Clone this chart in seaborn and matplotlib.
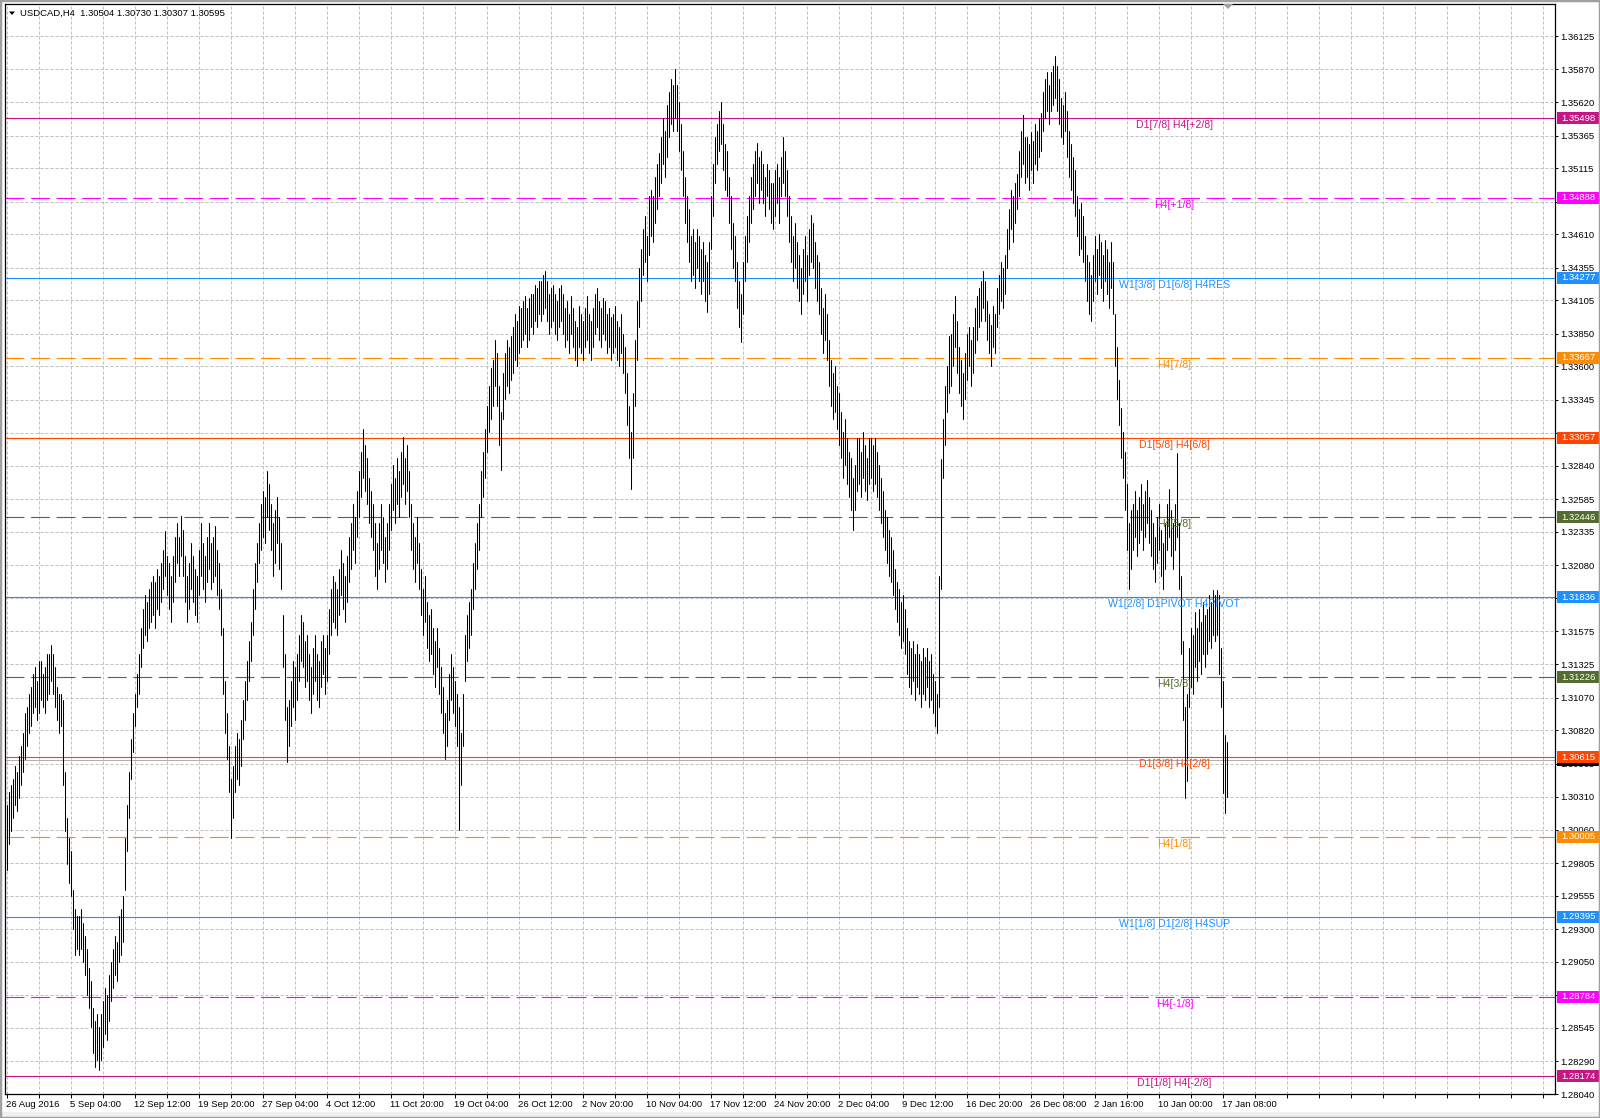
import numpy as np
import pandas as pd
import matplotlib
matplotlib.use("Agg")
import matplotlib.pyplot as plt
import matplotlib.transforms as mtransforms
from matplotlib.patches import Rectangle, Polygon
import seaborn as sns

sns.set_theme(style="white")
plt.rcParams['font.family'] = ['Liberation Sans', 'DejaVu Sans']

# ---------------- data: H4 bar lows / highs in pips above 1.28000 ----------------
lows_pips = [
175,195,205,215,225,220,230,240,250,260,
270,280,285,295,300,290,295,305,300,295,
305,310,320,310,300,290,280,285,240,205,
180,165,155,130,110,115,110,115,105,95,
80,70,55,35,25,30,22,30,40,50,
45,60,75,85,95,90,105,110,120,160,
190,215,245,265,285,300,310,330,345,355,
350,360,365,370,360,375,370,380,390,400,
385,375,365,380,395,410,400,415,400,380,
365,375,390,380,370,365,385,400,390,380,
395,405,390,395,400,385,375,355,310,280,
260,235,200,215,235,245,240,255,275,290,
305,320,335,355,375,395,410,420,430,425,
445,435,420,400,410,425,405,390,330,290,
258,270,285,300,290,305,320,335,330,315,
320,305,295,310,320,305,300,315,325,310,
320,340,355,365,360,355,370,385,375,365,
380,395,405,420,410,430,445,460,475,465,
455,440,430,420,400,390,405,420,410,395,
405,420,435,450,440,455,445,460,470,455,
465,445,420,405,395,410,390,370,355,365,
345,335,340,325,315,330,310,295,280,260,
270,290,305,295,285,270,206,240,270,320,
335,345,355,375,390,405,420,445,460,475,
495,510,520,530,545,530,500,481,520,535,
545,540,550,555,565,560,570,575,580,585,
575,580,590,585,595,590,600,595,600,605,
595,585,590,595,585,580,590,595,585,575,
580,570,585,575,565,560,575,570,565,575,
580,570,565,575,585,590,580,575,585,580,
570,575,565,570,575,565,560,570,555,540,
515,490,466,490,530,565,590,610,630,640,
625,645,660,655,670,680,690,700,715,705,
720,735,745,740,750,740,725,710,690,670,
655,640,625,630,620,635,625,615,625,610,
602,615,650,675,700,715,725,730,710,695,
690,670,650,635,625,605,590,579,600,625,
640,655,670,680,690,700,685,695,685,675,
690,680,670,665,675,685,670,690,700,690,
675,655,640,625,635,620,610,600,615,625,
610,630,640,635,620,610,600,585,570,580,
565,545,530,520,525,512,500,490,475,485,
470,460,450,435,450,465,470,460,475,465,
458,470,475,465,470,460,450,440,430,420,
410,400,395,385,375,365,355,345,350,340,
325,315,310,320,305,315,310,300,310,305,
315,300,305,295,285,280,300,390,475,500,
525,540,545,560,575,555,540,530,520,535,
550,560,545,555,570,580,590,595,605,595,
580,570,560,575,570,590,600,610,605,615,
635,650,665,655,670,680,690,705,715,700,
705,695,710,700,715,710,720,725,740,750,
755,745,755,760,765,755,745,735,730,740,
720,705,695,685,675,660,645,650,640,625,
610,600,595,610,625,615,630,620,610,625,
615,605,620,600,560,535,515,490,475,450,
420,390,405,420,430,415,425,435,420,430,
440,425,415,405,395,410,420,400,390,405,
420,430,415,405,420,430,390,340,290,230,
243,300,315,310,330,320,335,325,340,330,
340,350,345,355,350,355,325,300,234,219,
231,
]

highs_pips = [
225,235,240,245,255,250,262,270,280,295,
300,310,315,325,330,320,335,335,325,330,
340,340,347,340,330,315,310,310,305,250,
215,200,190,160,145,140,140,145,135,125,
115,100,90,70,60,65,55,65,75,85,
80,95,105,115,125,120,140,145,155,200,
225,250,275,295,310,325,340,360,375,385,
380,390,395,400,395,405,400,410,420,434,
415,410,400,415,430,440,430,446,435,415,
400,410,425,415,405,400,420,440,425,415,
430,440,425,430,438,420,410,390,360,320,
295,270,245,255,270,280,275,290,305,320,
335,350,365,390,410,425,440,455,465,460,
480,470,455,440,450,460,445,425,370,340,
300,305,320,335,330,340,355,370,365,350,
355,340,330,345,355,340,335,350,355,345,
355,375,390,400,395,390,405,420,410,400,
415,430,440,455,445,465,480,495,512,500,
490,475,465,455,440,425,440,455,445,430,
440,455,470,485,475,490,480,495,506,490,
500,480,455,440,430,445,425,405,390,400,
380,370,375,360,350,360,345,330,315,295,
305,325,340,330,320,310,300,280,310,355,
370,380,390,410,425,440,455,480,495,512,
530,545,559,565,580,570,545,525,555,570,
580,575,583,590,600,595,606,605,610,614,
605,612,615,615,622,620,625,625,630,633,
625,615,620,622,615,610,620,622,615,605,
610,600,614,605,595,590,606,600,595,605,
614,600,595,605,615,620,610,605,612,610,
600,605,598,600,606,595,590,600,585,575,
555,530,510,540,580,610,635,650,665,675,
660,690,695,690,705,715,723,735,750,740,
760,770,780,775,787,775,762,745,725,705,
690,680,660,665,655,665,660,650,655,645,
640,655,690,715,735,745,755,762,745,730,
725,705,690,670,660,640,625,615,640,660,
675,690,705,715,725,731,720,725,715,705,
715,710,700,700,710,715,705,720,735,725,
710,690,675,660,670,655,645,635,650,660,
645,665,676,670,655,645,640,620,605,615,
600,580,565,555,560,545,540,525,510,520,
505,495,490,475,485,505,505,495,510,500,
490,505,505,500,505,495,485,475,465,450,
445,435,430,420,405,395,390,380,385,375,
360,350,345,350,340,348,340,335,345,338,
345,335,340,325,320,310,400,489,520,545,
560,583,585,600,614,595,575,565,555,570,
585,590,580,590,605,614,620,625,633,625,
610,600,592,606,600,620,630,640,635,645,
665,680,695,690,700,707,725,740,752,735,
735,730,739,732,745,740,750,754,770,780,
785,775,785,790,797,790,780,765,760,770,
755,740,730,720,710,690,680,685,675,660,
645,640,630,645,660,650,661,655,645,657,
650,640,655,640,600,575,550,528,510,495,
470,440,450,455,465,450,460,470,455,465,
473,460,450,440,430,445,455,435,425,440,
455,466,450,440,455,494,440,400,350,300,
310,345,360,355,372,360,375,365,380,370,
375,385,380,389,385,389,385,345,320,278,
273,
]

x_labels = ["26 Aug 2016", "5 Sep 04:00", "12 Sep 12:00", "19 Sep 20:00", "27 Sep 04:00",
            "4 Oct 12:00", "11 Oct 20:00", "19 Oct 04:00", "26 Oct 12:00", "2 Nov 20:00",
            "10 Nov 04:00", "17 Nov 12:00", "24 Nov 20:00", "2 Dec 04:00", "9 Dec 12:00",
            "16 Dec 20:00", "26 Dec 08:00", "2 Jan 16:00", "10 Jan 00:00", "17 Jan 08:00"]

y_ticks = [1.36125, 1.35870, 1.35620, 1.35365, 1.35115, 1.34860, 1.34610, 1.34355, 1.34105,
           1.33850, 1.33600, 1.33345, 1.33090, 1.32840, 1.32585, 1.32335, 1.32080, 1.31830,
           1.31575, 1.31325, 1.31070, 1.30820, 1.30565, 1.30310, 1.30060, 1.29805, 1.29555,
           1.29300, 1.29050, 1.28795, 1.28545, 1.28290, 1.28040]
# tick labels hidden under the level price boxes
hidden_ticks = [1.34860, 1.33090, 1.31830, 1.28795]

level_prices = [1.35498, 1.34888, 1.34277, 1.33667, 1.33057, 1.32446, 1.31836,
                1.31226, 1.30615, 1.30005, 1.29395, 1.28784, 1.28174]
level_names = ["D1[7/8] H4[+2/8]", "H4[+1/8]", "W1[3/8] D1[6/8] H4RES", "H4[7/8]",
               "D1[5/8] H4[6/8]", "H4[5/8]", "W1[2/8] D1PIVOT H4PIVOT", "H4[3/8]",
               "D1[3/8] H4[2/8]", "H4[1/8]", "W1[1/8] D1[2/8] H4SUP", "H4[-1/8]",
               "D1[1/8] H4[-2/8]"]
level_colors = ["#C71585", "#FF00FF", "#1E90FF", "#FF8C00", "#FF4500", "#556B2F", "#1E90FF",
                "#556B2F", "#FF4500", "#FF8C00", "#1E90FF", "#FF00FF", "#C71585"]
level_dashed = [False, True, False, True, False, True, False, True, False, True, False, True, False]

header = "USDCAD,H4  1.30504 1.30730 1.30307 1.30595"
bid_price = 1.30595

# ---------------- figure ----------------
W, H = 1600, 1118
fig = plt.figure(figsize=(W / 100, H / 100), dpi=100)
fig.patch.set_facecolor("white")

ax_l, ax_r, ax_t, ax_b = 5, 1555, 4, 1094
ax = fig.add_axes([ax_l / W, 1 - ax_b / H, (ax_r - ax_l) / W, (ax_b - ax_t) / H])
ax.set_facecolor("white")

y_lo, y_hi = 1.28040, 1.36370
x_lo, x_hi = -0.75, 774.25

# grid
for gx in range(0, 775, 16):
    ax.axvline(gx, color="#C0C0C0", lw=0.72, dashes=(3, 2), zorder=0)
for gy in y_ticks:
    ax.axhline(gy, color="#C0C0C0", lw=0.72, dashes=(3, 2), zorder=0)

# price bars (high-low lines), drawn with seaborn (one unit per bar)
n = len(lows_pips)
bars = np.arange(n)
df = pd.DataFrame({
    "bar": np.concatenate([bars, bars]),
    "price": 1.28 + np.concatenate([np.array(lows_pips), np.array(highs_pips)]) / 10000.0,
})
sns.lineplot(data=df, x="bar", y="price", units="bar", estimator=None, sort=False,
             color="black", lw=0.75, ax=ax, zorder=3, legend=False)

# level lines
for p, c, d in zip(level_prices, level_colors, level_dashed):
    if d:
        ax.axhline(p, color=c, lw=0.8, dashes=(17, 6), zorder=2)
    else:
        ax.axhline(p, color=c, lw=0.8, zorder=2)
ax.axhline(bid_price, color="#B0B0B0", lw=0.72, zorder=1)

for p, nme, c in zip(level_prices, level_names, level_colors):
    ax.annotate(nme, xy=(584, p), xytext=(0, -7), textcoords="offset pixels",
                ha="center", va="center", color=c, fontsize=7.6, zorder=4)

ax.set_xlim(x_lo, x_hi)
ax.set_ylim(y_lo, y_hi)

# axes styling
for s in ax.spines.values():
    s.set_color("black")
    s.set_linewidth(0.9)
ax.yaxis.tick_right()
ax.set_yticks(y_ticks)
ax.set_yticklabels(["" if v in hidden_ticks else f"{v:.5f}" for v in y_ticks],
                   fontsize=6.8, color="black")
ax.tick_params(axis="y", length=2.5, width=0.7, pad=1.2, color="black", right=True, left=False)
xt = list(range(0, 775, 16))
ax.set_xticks(xt)
xl = []
for t in xt:
    k = t // 32
    xl.append(x_labels[k] if t % 32 == 0 and k < len(x_labels) else "")
ax.set_xticklabels(xl, fontsize=6.8, ha="left", color="black")
ax.tick_params(axis="x", length=3, width=0.7, pad=1.0, color="black", bottom=True)
ax.set_xlabel("")
ax.set_ylabel("")

# price boxes on right axis
bt = mtransforms.blended_transform_factory(fig.transFigure, ax.transData)
px_per_price = (ax_b - ax_t) / (y_hi - y_lo)
bh = 12 / px_per_price
fig.add_artist(Rectangle((1557 / W, bid_price - bh / 2), 43 / W, bh, transform=bt,
                         facecolor="black", edgecolor="none", zorder=5))
for p, c in zip(level_prices, level_colors):
    fig.add_artist(Rectangle((1557 / W, p - bh / 2), 43 / W, bh, transform=bt,
                             facecolor=c, edgecolor="none", zorder=6))
    fig.text(1561 / W, p, f"{p:.5f}", transform=bt, color="white", fontsize=6.8,
             ha="left", va="center", zorder=7)

# header
fig.text(20.5 / W, 1 - 13.3 / H, header, fontsize=6.8, ha="left", va="center", color="black")
fig.add_artist(Polygon([(9 / W, 1 - 11.5 / H), (15 / W, 1 - 11.5 / H), (12 / W, 1 - 15 / H)],
                       closed=True, facecolor="black", edgecolor="none", transform=fig.transFigure))
# chart shift marker
fig.add_artist(Polygon([(1223 / W, 1 - 4 / H), (1233 / W, 1 - 4 / H), (1228 / W, 1 - 9 / H)],
                       closed=True, facecolor="#A0A0A0", edgecolor="none", transform=fig.transFigure))

# window frame
fig.add_artist(Rectangle((0, 0), 1, 1, transform=fig.transFigure, fill=False,
                         edgecolor="#A0A0A0", lw=2.5, zorder=10))
fig.add_artist(Rectangle((0, 0), 1, 6 / H, transform=fig.transFigure,
                         facecolor="#F0F0F0", edgecolor="none", zorder=0))

fig.savefig("out.png", dpi=100, facecolor="white")
